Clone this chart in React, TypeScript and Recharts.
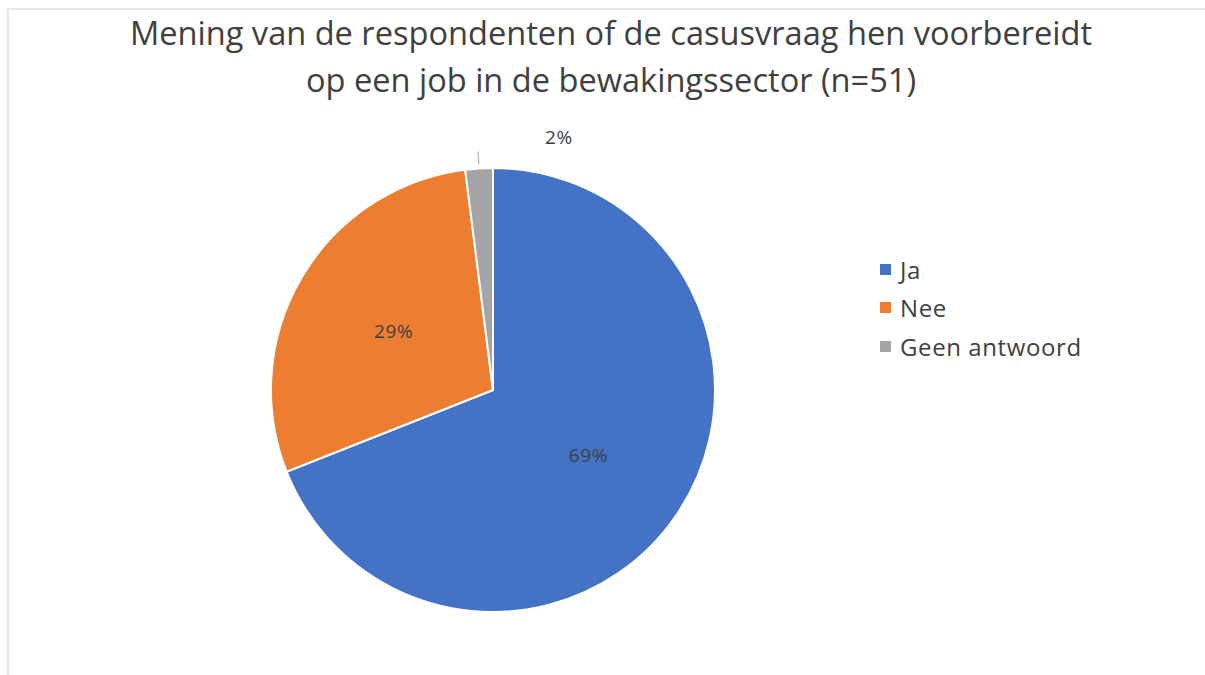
import React from 'react';
import { PieChart, Pie, Cell } from 'recharts';

const categories = ['Ja', 'Nee', 'Geen antwoord'];
const percentages = [69, 29, 2];
const COLORS = ['#4472C4', '#ED7D31', '#A5A5A5'];

const data = categories.map((name, i) => ({ name, value: percentages[i] }));

const RAD = Math.PI / 180;
const FONT = '"Open Sans", Lato, sans-serif';

const renderLabel = (props: any) => {
  const { cx, cy, midAngle, outerRadius, index } = props;
  const cos = Math.cos(-midAngle * RAD);
  const sin = Math.sin(-midAngle * RAD);
  if (percentages[index] < 5) {
    // small slice: leader line outside plus a shifted label
    const x1 = cx + (outerRadius + 4) * cos;
    const y1 = cy + (outerRadius + 4) * sin;
    const x2 = cx + (outerRadius + 17) * cos;
    const y2 = cy + (outerRadius + 17) * sin;
    return (
      <g>
        <line x1={x1} y1={y1} x2={x2} y2={y2} stroke="#A6A6A6" strokeWidth={1} />
        <text x={x2 + 81} y={y2 - 14} fill="#404040" fontSize={19} letterSpacing={0.6} fontFamily={FONT} textAnchor="middle" dominantBaseline="central">
          {percentages[index]}%
        </text>
      </g>
    );
  }
  const r = outerRadius * 0.52;
  return (
    <text x={cx + r * cos} y={cy + r * sin} fill="#404040" fontSize={19} letterSpacing={0.6} fontFamily={FONT} textAnchor="middle" dominantBaseline="central">
      {percentages[index]}%
    </text>
  );
};

const App: React.FC = () => {
  return (
    <div style={{ position: 'absolute', left: 0, top: 0, width: 1205, height: 675, background: '#fff', overflow: 'hidden' }}>
      <div style={{ position: 'absolute', left: 7, top: 8, right: 0, bottom: 0, borderTop: '2px solid #E8E8E8', borderLeft: '2px solid #E8E8E8' }} />
      <div style={{ position: 'absolute', left: 0, top: 9, width: 1222, textAlign: 'center', fontFamily: FONT, fontSize: 32.6, lineHeight: '47px', color: '#404040' }}>
        Mening van de respondenten of de casusvraag hen voorbereidt<br />
        op een job in de bewakingssector (n=51)
      </div>
      <div style={{ position: 'absolute', left: 0, top: 0 }}>
        <PieChart width={1205} height={675} margin={{ top: 0, right: 0, bottom: 0, left: 0 }}>
          <Pie
            data={data}
            dataKey="value"
            nameKey="name"
            cx={493}
            cy={390}
            outerRadius={222}
            startAngle={90}
            endAngle={-270}
            stroke="#fff"
            strokeWidth={2}
            label={renderLabel}
            labelLine={false}
            isAnimationActive={false}
          >
            {data.map((d, i) => (
              <Cell key={d.name} fill={COLORS[i]} />
            ))}
          </Pie>
        </PieChart>
      </div>
      <div style={{ position: 'absolute', left: 880, top: 250, fontFamily: FONT, fontSize: 24, letterSpacing: 0.6, color: '#404040' }}>
        {categories.map((c, i) => (
          <div key={c} style={{ display: 'flex', alignItems: 'center', height: 38.5 }}>
            <span style={{ display: 'inline-block', width: 11, height: 11, background: COLORS[i], marginRight: 9 }} />
            {c}
          </div>
        ))}
      </div>
    </div>
  );
};

export default App;
